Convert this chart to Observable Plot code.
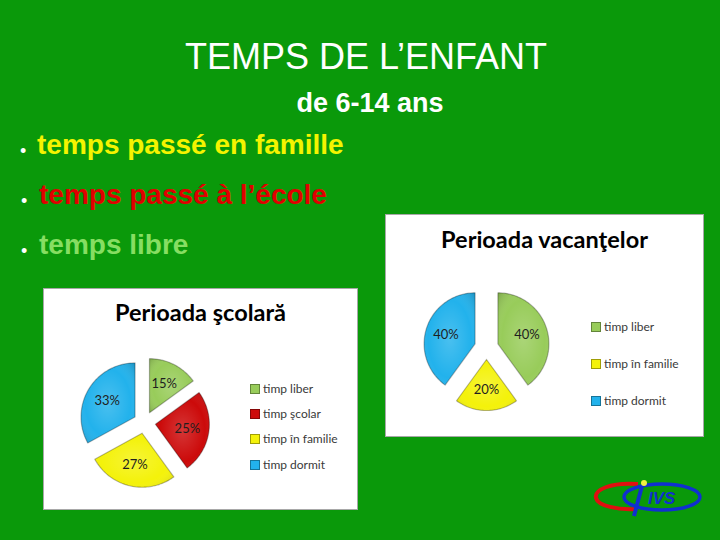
<!DOCTYPE html>
<html><head><meta charset="utf-8">
<script src="https://cdn.jsdelivr.net/npm/d3@7"></script>
<script src="https://cdn.jsdelivr.net/npm/@observablehq/plot@0.6"></script>
<style>
html,body{margin:0;padding:0;}
body{width:720px;height:540px;background:#0a990a;position:relative;overflow:hidden;font-family:"Liberation Sans",Arial,sans-serif;}
.abs{position:absolute;white-space:nowrap;}
.title{left:0;width:732px;text-align:center;top:39px;font-size:36px;line-height:36px;color:#fff;}
.sub{left:0;width:740px;text-align:center;top:90px;font-size:27px;line-height:27px;color:#fff;font-weight:bold;}
.bul{font-size:28px;line-height:28px;font-weight:bold;}
.dot{color:#fff;font-size:18px;line-height:18px;}
.box{background:#fff;border:1px solid #a8a8a8;}
.ct{font-family:Lato,"Open Sans",sans-serif;font-weight:bold;color:#000;text-align:center;font-size:23.5px;line-height:23.5px;}
.lg{font-family:Lato,"Open Sans",sans-serif;font-size:12px;line-height:12px;color:#3a3a3a;display:flex;align-items:center;}
.sw{width:8px;height:8px;border:1px solid rgba(0,0,0,0.35);margin-right:3px;}
</style></head>
<body>
<div class="abs title">TEMPS DE L’ENFANT</div>
<div class="abs sub">de 6-14 ans</div>
<div class="abs dot" style="left:20px;top:142px;">•</div>
<div class="abs bul" style="left:37px;top:131px;color:#f4f400;">temps passé en famille</div>
<div class="abs dot" style="left:21px;top:192px;">•</div>
<div class="abs bul" style="left:39px;top:181px;color:#e00000;">temps passé à l’école</div>
<div class="abs dot" style="left:21px;top:242px;">•</div>
<div class="abs bul" style="left:39px;top:231px;color:#86de62;">temps libre</div>

<div class="abs box" style="left:43px;top:288px;width:313px;height:220px;"></div>
<div class="abs box" style="left:385px;top:214px;width:317px;height:221px;"></div>
<div class="abs ct" style="left:43px;width:315px;top:301px;">Perioada şcolară</div>
<div class="abs ct" style="left:385px;width:319px;top:228px;">Perioada vacanţelor</div>
<div id="pie1" class="abs" style="left:74px;top:352px;"></div>
<div id="pie2" class="abs" style="left:416px;top:277px;"></div>
<div id="leg1" class="abs" style="left:250px;top:376px;"></div>
<div id="leg2" class="abs" style="left:591px;top:308px;"></div>

<svg class="abs" style="left:590px;top:476px;" width="120" height="50" viewBox="0 0 120 50">
  <path d="M48,8 C20,6 4,14 6,22 C8,30 28,34 46,33" fill="none" stroke="#e01010" stroke-width="4"/>
  <ellipse cx="72" cy="21" rx="38" ry="13" fill="none" stroke="#1030d0" stroke-width="3.5"/>
  <path d="M52,10 L44,40" stroke="#1030d0" stroke-width="4"/>
  <circle cx="54" cy="7" r="3" fill="#f0f040"/>
  <text x="58" y="28" font-family="Liberation Sans" font-style="italic" font-weight="bold" font-size="17" fill="#1030d0">IVS</text>
</svg>

<script>
const allCats = ["timp liber","timp şcolar","timp în familie","timp dormit"];
const catColors = ["#98cc5a","#cc0a0a","#f4f20a","#22b2ec"];
const schoolCats = ["timp liber","timp şcolar","timp în familie","timp dormit"];
const schoolVals = [15,25,27,33];
const vacCats = ["timp liber","timp în familie","timp dormit"];
const vacVals = [40,20,40];

function build(cats, vals, r, e){
  const arcs = d3.pie().sort(null).value(d=>d.v)(cats.map((c,i)=>({c, v:vals[i]})));
  const pts=[], labels=[];
  arcs.forEach(p=>{
    const c=p.data.c, mid=(p.startAngle+p.endAngle)/2;
    const ox=e*Math.sin(mid), oy=e*Math.cos(mid);
    pts.push({c,x:ox,y:oy});
    const n=Math.max(4,Math.ceil((p.endAngle-p.startAngle)/0.03));
    for(let k=0;k<=n;k++){const a=p.startAngle+(p.endAngle-p.startAngle)*k/n; pts.push({c,x:ox+r*Math.sin(a),y:oy+r*Math.cos(a)});}
    pts.push({c,x:ox,y:oy});
    const lr=e+0.6*r;
    labels.push({c,label:p.data.v+"%",x:lr*Math.sin(mid),y:lr*Math.cos(mid)});
  });
  return {pts,labels};
}

function pie(cats, vals, r, e, id){
  const {pts,labels}=build(cats,vals,r,e);
  const svg = Plot.plot({
    width:140,height:140,margin:0,inset:0,
    style:{background:"transparent",overflow:"visible"},
    x:{domain:[-70,70],axis:null},
    y:{domain:[-70,70],axis:null},
    color:{domain:allCats,range:catColors},
    marks:[
      Plot.line(pts,{x:"x",y:"y",z:"c",fill:"c",stroke:"none",curve:"linear"}),
      Plot.line(pts,{x:"x",y:"y",z:"c",fill:`url(#shade${id})`,stroke:"rgba(0,0,0,0.28)",strokeWidth:1.2,curve:"linear"}),
      Plot.text(labels,{x:"x",y:"y",text:"label",fontSize:13,fill:"#1e1e1e",fontFamily:"Lato"})
    ]
  });
  const ns="http://www.w3.org/2000/svg";
  const defs=document.createElementNS(ns,"defs");
  defs.innerHTML=`<radialGradient id="shade${id}" cx="0.5" cy="0.5" r="0.7"><stop offset="0" stop-color="#fff" stop-opacity="0.18"/><stop offset="0.6" stop-color="#fff" stop-opacity="0"/><stop offset="1" stop-color="#000" stop-opacity="0.18"/></radialGradient>`;
  svg.insertBefore(defs, svg.firstChild);
  document.getElementById("pie"+id).appendChild(svg);
}
pie(schoolCats, schoolVals, 54, 11, 1);
pie(vacCats, vacVals, 51, 12, 2);

function legend(cats, gap, el){
  const box=document.getElementById(el);
  cats.forEach((c,i)=>{
    const row=document.createElement("div");
    row.className="lg"; row.style.height=gap+"px";
    const sw=document.createElement("div"); sw.className="sw";
    sw.style.background=catColors[allCats.indexOf(c)];
    row.appendChild(sw);
    row.appendChild(document.createTextNode(c));
    box.appendChild(row);
  });
}
legend(schoolCats, 25.3, "leg1");
legend(vacCats, 37, "leg2");
</script>
</body></html>
